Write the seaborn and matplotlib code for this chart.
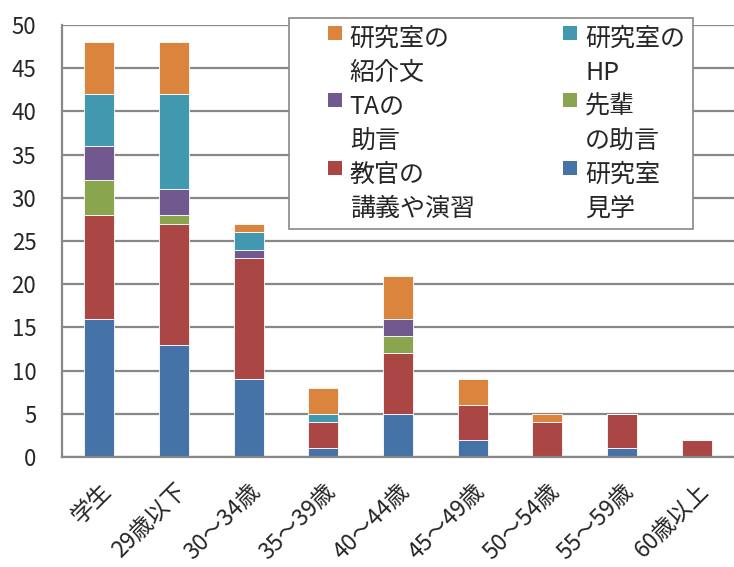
import numpy as np
import pandas as pd
import matplotlib
matplotlib.use("Agg")
import matplotlib.pyplot as plt
from matplotlib.patches import Patch, Rectangle
from matplotlib.legend_handler import HandlerPatch
import seaborn as sns

# categories (x axis)
categories = ["学生", "29歳以下", "30～34歳", "35～39歳", "40～44歳",
              "45～49歳", "50～54歳", "55～59歳", "60歳以上"]

# series values
kengaku = [16, 13, 9, 1, 5, 2, 0, 1, 0]        # 研究室見学
kougi = [12, 14, 14, 3, 7, 4, 4, 4, 2]         # 教官の講義や演習
senpai = [4, 1, 0, 0, 2, 0, 0, 0, 0]           # 先輩の助言
ta = [4, 3, 1, 0, 2, 0, 0, 0, 0]               # TAの助言
hp = [6, 11, 2, 1, 0, 0, 0, 0, 0]              # 研究室のHP
shoukai = [6, 6, 1, 3, 5, 3, 1, 0, 0]          # 研究室の紹介文

series_names = ["研究室見学", "教官の講義や演習", "先輩の助言", "TAの助言", "研究室のHP", "研究室の紹介文"]
series_values = [kengaku, kougi, senpai, ta, hp, shoukai]
series_colors = ["#4572A7", "#AA4643", "#89A54E", "#71588F", "#4198AF", "#DB843D"]

# legend entries, column by column (left column, then right column)
legend_series = ["研究室の紹介文", "TAの助言", "教官の講義や演習", "研究室のHP", "先輩の助言", "研究室見学"]
legend_labels = ["研究室の\n紹介文", "TAの\n助言", "教官の\n講義や演習", "研究室の\nHP", "先輩\nの助言", "研究室\n見学"]

sns.set_style("white")
plt.rcParams["font.family"] = ["Noto Sans CJK JP", "DejaVu Sans"]

rows = []
for name, vals in zip(series_names, series_values):
    for cat, v in zip(categories, vals):
        rows.append({"category": cat, "series": name, "count": v})
df = pd.DataFrame(rows)

fig = plt.figure(figsize=(7.34, 5.67), dpi=100)
ax = fig.add_axes([0.0845, 0.194, 0.9155, 0.762])

# first hue level ends up on top of the stack
hue_order = series_names[::-1]
palette = dict(zip(series_names, series_colors))
sns.histplot(
    data=df, x="category", weights="count", hue="series",
    hue_order=hue_order, palette=palette, multiple="stack",
    discrete=True, shrink=0.4, alpha=1, edgecolor="white",
    linewidth=0.6, legend=False, ax=ax,
)

ax.set_ylim(0, 50)
ax.set_xlim(-0.5, len(categories) - 0.5)
ax.set_yticks(np.arange(0, 51, 5))
ax.tick_params(axis="y", labelsize=16, length=6.5, color="#888888", width=1.5, pad=12)

# tick marks between categories, labels at centers
ax.set_xticks(np.arange(-0.5, len(categories), 1))
ax.set_xticklabels([])
ax.set_xticks(np.arange(len(categories)), minor=True)
ax.set_xticklabels(categories, minor=True, rotation=45, ha="right",
                   rotation_mode="anchor", fontsize=16.5)
ax.tick_params(axis="x", which="major", length=7, color="#888888", width=1.5)
ax.tick_params(axis="x", which="minor", length=0, pad=16)

ax.set_xlabel("")
ax.set_ylabel("")
ax.yaxis.grid(True, color="#888888", linewidth=1.6)
ax.set_axisbelow(True)
for side in ["top", "right"]:
    ax.spines[side].set_visible(False)
for side in ["left", "bottom"]:
    ax.spines[side].set_color("#888888")
    ax.spines[side].set_linewidth(1.6)


def square_on_first_line(legend, orig_handle, xdescent, ydescent, width, height, fontsize):
    # small square at the right end of the handle area, level with the first text line
    size = 0.56 * fontsize
    return Rectangle((width - xdescent - size, -ydescent + 1.05 * fontsize), size, size)


handles = [Patch(facecolor=palette[s], edgecolor="none") for s in legend_series]
leg = fig.legend(
    handles, legend_labels, ncol=2, loc="upper left",
    bbox_to_anchor=(0.394, 0.968), borderaxespad=0, fontsize=18, frameon=True,
    fancybox=False, edgecolor="#888888", framealpha=1,
    handlelength=1.8, handleheight=0.7, handletextpad=0.32,
    columnspacing=2.3, labelspacing=0.3, borderpad=0.3,
    handler_map={Patch: HandlerPatch(patch_func=square_on_first_line)},
)
leg.get_frame().set_linewidth(1.2)
for t in leg.get_texts():
    t.set_linespacing(1.42)

fig.savefig("out.png", dpi=100)
